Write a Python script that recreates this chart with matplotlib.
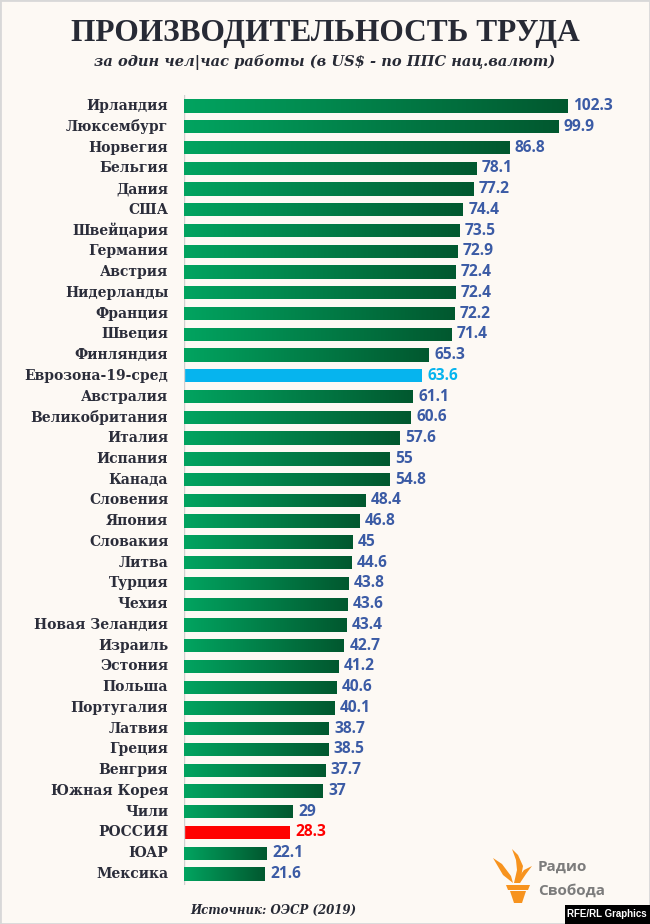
import matplotlib
matplotlib.use("Agg")
import matplotlib.pyplot as plt
import numpy as np
from matplotlib.patches import Polygon, Rectangle
from matplotlib.colors import LinearSegmentedColormap

countries = ["Ирландия", "Люксембург", "Норвегия", "Бельгия", "Дания", "США",
             "Швейцария", "Германия", "Австрия", "Нидерланды", "Франция", "Швеция",
             "Финляндия", "Еврозона-19-сред", "Австралия", "Великобритания", "Италия",
             "Испания", "Канада", "Словения", "Япония", "Словакия", "Литва", "Турция",
             "Чехия", "Новая Зеландия", "Израиль", "Эстония", "Польша", "Португалия",
             "Латвия", "Греция", "Венгрия", "Южная Корея", "Чили", "РОССИЯ", "ЮАР", "Мексика"]
values = [102.3, 99.9, 86.8, 78.1, 77.2, 74.4, 73.5, 72.9, 72.4, 72.4, 72.2, 71.4,
          65.3, 63.6, 61.1, 60.6, 57.6, 55, 54.8, 48.4, 46.8, 45, 44.6, 43.8, 43.6,
          43.4, 42.7, 41.2, 40.6, 40.1, 38.7, 38.5, 37.7, 37, 29, 28.3, 22.1, 21.6]
value_labels = ["102.3", "99.9", "86.8", "78.1", "77.2", "74.4", "73.5", "72.9", "72.4",
                "72.4", "72.2", "71.4", "65.3", "63.6", "61.1", "60.6", "57.6", "55",
                "54.8", "48.4", "46.8", "45", "44.6", "43.8", "43.6", "43.4", "42.7",
                "41.2", "40.6", "40.1", "38.7", "38.5", "37.7", "37", "29", "28.3",
                "22.1", "21.6"]

BG = "#fdf9f4"
W, H = 650, 924
fig = plt.figure(figsize=(6.5, 9.24), dpi=100, facecolor=BG)

def fx(px):
    return px / W

def fy(py):
    return 1 - py / H

# frame
fig.patches.append(Rectangle((0, 0), 1, 1, transform=fig.transFigure, fill=False,
                             edgecolor="#d8d8d8", linewidth=2))

ax_left, ax_right, ax_top, ax_bot = 184, 620, 95, 885
ax = fig.add_axes([fx(ax_left), fy(ax_bot), fx(ax_right - ax_left), (ax_bot - ax_top) / H])
ax.set_facecolor("none")
pxu = 3.745
ax.set_xlim(0, (ax_right - ax_left) / pxu)
n = len(countries)
sp = (874 - 106) / (n - 1)
ax.set_ylim(n - 1 + 11 / sp, -11 / sp)
for s in ax.spines.values():
    s.set_visible(False)
ax.axvline(0, color="#d0d0d0", linewidth=1)
ax.set_xticks([])
ax.set_yticks([])

grad = LinearSegmentedColormap.from_list("g", ["#02a460", "#01582f"])
gimg = np.linspace(0, 1, 256).reshape(1, -1)

ypos = np.arange(n)
bars = ax.barh(ypos, values, height=0.64, color="none", edgecolor="none")
label_color = "#2b2d3a"
val_color = "#3b5ba5"
for i, (b, c, v, vl) in enumerate(zip(bars, countries, values, value_labels)):
    if c == "Еврозона-19-сред":
        b.set_facecolor("#06b4ee")
        vc = "#06b4ee"
    elif c == "РОССИЯ":
        b.set_facecolor("#ff0000")
        vc = "#ff0000"
    else:
        y0 = b.get_y()
        im = ax.imshow(gimg, cmap=grad, aspect="auto",
                       extent=(0, v, y0 + b.get_height(), y0), zorder=2)
        im.set_clip_path(b)
        vc = val_color
    ax.text(v + 1.5, i, vl, ha="left", va="center", fontsize=11.2, fontweight="bold",
            color=vc, family="Open Sans")
    ax.text(-4.2, i, c, ha="right", va="center", fontsize=10, fontweight="bold",
            color=label_color, family="DejaVu Serif")

# title
fig.text(0.5, fy(33), "ПРОИЗВОДИТЕЛЬНОСТЬ ТРУДА", ha="center", va="center",
         fontsize=22.6, fontweight="bold", color="#272a35", family="Liberation Serif")
fig.text(0.5, fy(62), "за один чел|час работы (в US$ - по ППС нац.валют)", ha="center",
         va="center", fontsize=10.5, fontweight="bold", style="italic", color="#272a35",
         family="DejaVu Serif")

# source
fig.text(fx(190), fy(910), "Источник: ОЭСР (2019)", ha="left", va="center", fontsize=8.5,
         fontweight="bold", style="italic", color="#272a35", family="DejaVu Serif")

# logo torch
orange = "#f7931e"
def P(pts):
    return Polygon([(fx(x), fy(y)) for x, y in pts], closed=True, transform=fig.transFigure,
                   facecolor=orange, edgecolor="none")
fig.patches.append(P([(506, 885), (530, 885), (528, 890), (508, 890)]))
fig.patches.append(P([(510, 891), (526, 891), (522, 903), (514, 903)]))
fig.patches.append(P([(514, 883), (520, 883), (523, 866), (518, 855), (512, 849),
                      (516, 860), (517, 870)]))
fig.patches.append(P([(513, 883), (503, 875), (493, 858), (502, 864), (511, 876)]))
fig.patches.append(P([(520, 883), (526, 874), (532, 866), (524, 870), (518, 878)]))
fig.text(fx(538), fy(867), "Радио", ha="left", va="center", fontsize=11, fontweight="bold",
         color="#7c7c7c", family="Open Sans")
fig.text(fx(538), fy(891), "Свобода", ha="left", va="center", fontsize=11, fontweight="bold",
         color="#7c7c7c", family="Open Sans")

# RFE/RL Graphics tag
fig.patches.append(Rectangle((fx(565), 0), fx(85), 19 / H, transform=fig.transFigure,
                             facecolor="#000000", edgecolor="none"))
fig.text(fx(607), fy(914), "RFE/RL Graphics", ha="center", va="center", fontsize=7,
         fontweight="bold", color="white", family="Liberation Sans")

fig.savefig("out.png", dpi=100, facecolor=BG)
